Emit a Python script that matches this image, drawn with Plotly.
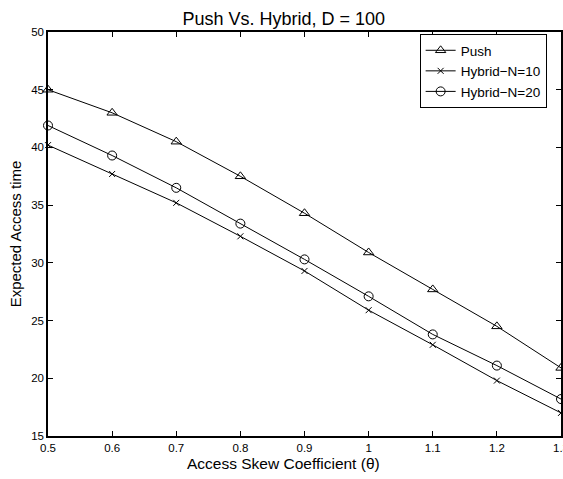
import plotly.graph_objects as go

theta = [0.5, 0.6, 0.7, 0.8, 0.9, 1.0, 1.1, 1.2, 1.3]
push = [45.0, 43.0, 40.5, 37.5, 34.3, 30.9, 27.7, 24.5, 20.9]
hybrid_n10 = [40.2, 37.7, 35.2, 32.3, 29.3, 25.9, 22.9, 19.8, 17.0]
hybrid_n20 = [41.9, 39.3, 36.5, 33.4, 30.3, 27.1, 23.8, 21.1, 18.2]

x_ticks = [0.5, 0.6, 0.7, 0.8, 0.9, 1.0, 1.1, 1.2, 1.3]
x_ticklabels = ["0.5", "0.6", "0.7", "0.8", "0.9", "1", "1.1", "1.2", "1.3"]
y_ticks = [15, 20, 25, 30, 35, 40, 45, 50]

FONT = "Liberation Sans, Arial, Helvetica, sans-serif"

fig = go.Figure()
series = [
    ("Push", push, "triangle-up-open"),
    ("Hybrid\u2212N=10", hybrid_n10, "x-thin-open"),
    ("Hybrid\u2212N=20", hybrid_n20, "circle-open"),
]
for name, ys, sym in series:
    fig.add_trace(go.Scatter(
        x=theta, y=ys, name=name, mode="lines+markers",
        line=dict(color="black", width=1),
        marker=dict(symbol=sym, size=9 if sym != "x-thin-open" else 6,
                    color="black", line=dict(color="black", width=1)),
        cliponaxis=False,
    ))

axis_common = dict(
    showline=True, linecolor="black", linewidth=1.5, mirror="ticks",
    ticks="inside", ticklen=5, tickcolor="black", tickwidth=1,
    showgrid=False, zeroline=False, ticklabeloverflow="allow",
    automargin=False,
    tickfont=dict(family=FONT, size=11.5, color="black"),
)

fig.update_layout(
    width=563, height=479,
    margin=dict(l=48, r=2, t=32, b=43),
    paper_bgcolor="white", plot_bgcolor="white",
    title=dict(text="Push Vs. Hybrid, D = 100", x=0.504, xanchor="center",
               xref="container", y=0.975, yanchor="top",
               font=dict(family=FONT, size=18, color="black")),
    xaxis=dict(range=[0.5, 1.3], tickvals=x_ticks, ticktext=x_ticklabels,
               **axis_common),
    yaxis=dict(range=[15, 50], tickvals=y_ticks,
               title=dict(text="Expected Access time", standoff=6,
                          font=dict(family=FONT, size=15, color="black")),
               **axis_common),
    annotations=[dict(text="Access Skew Coefficient (\u03b8)", xref="paper", yref="paper",
                      x=0.4585, y=-0.067, xanchor="center", yanchor="middle",
                      showarrow=False,
                      font=dict(family=FONT, size=15.5, color="black"))],
    legend=dict(x=0.972, xanchor="right", y=0.995, yanchor="top",
                bgcolor="white", bordercolor="black", borderwidth=1,
                font=dict(family=FONT, size=13.5, color="black"),
                tracegroupgap=0, itemwidth=30),
    showlegend=True,
)

fig.write_html("out.html")
